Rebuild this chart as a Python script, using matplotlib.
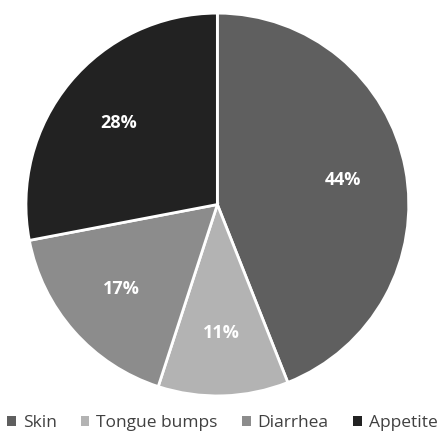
import matplotlib.pyplot as plt
from matplotlib.patches import Patch

categories = ["Skin", "Tongue bumps", "Diarrhea", "Appetite"]
values = [44, 11, 17, 28]
colors = ["#5f5f5f", "#b3b3b3", "#8c8c8c", "#222222"]

plt.rcParams["font.family"] = ["Open Sans", "DejaVu Sans"]

fig = plt.figure(figsize=(4.4, 4.37), dpi=100)
ax = fig.add_axes([0.059, 0.094, 0.870, 0.876])

wedges, texts, autotexts = ax.pie(
    values, colors=colors, startangle=90, counterclock=False,
    autopct=lambda p: f"{p:.0f}%", pctdistance=0.67,
    wedgeprops=dict(edgecolor="white", linewidth=2),
    textprops=dict(color="white", fontsize=13, fontweight="bold"),
)
ax.set_xlim(-1.0, 1.0)
ax.set_ylim(-1.0, 1.0)
ax.set_aspect("equal")

handles = [Patch(facecolor=c, edgecolor="none") for c in colors]
fig.legend(handles, categories, loc="lower center", bbox_to_anchor=(0.505, -0.022),
           ncol=4, frameon=False, fontsize=12.5, handlelength=0.5, handleheight=0.5,
           handletextpad=0.4, columnspacing=1.4, labelcolor="#404040")

fig.savefig("out.png", dpi=100)
